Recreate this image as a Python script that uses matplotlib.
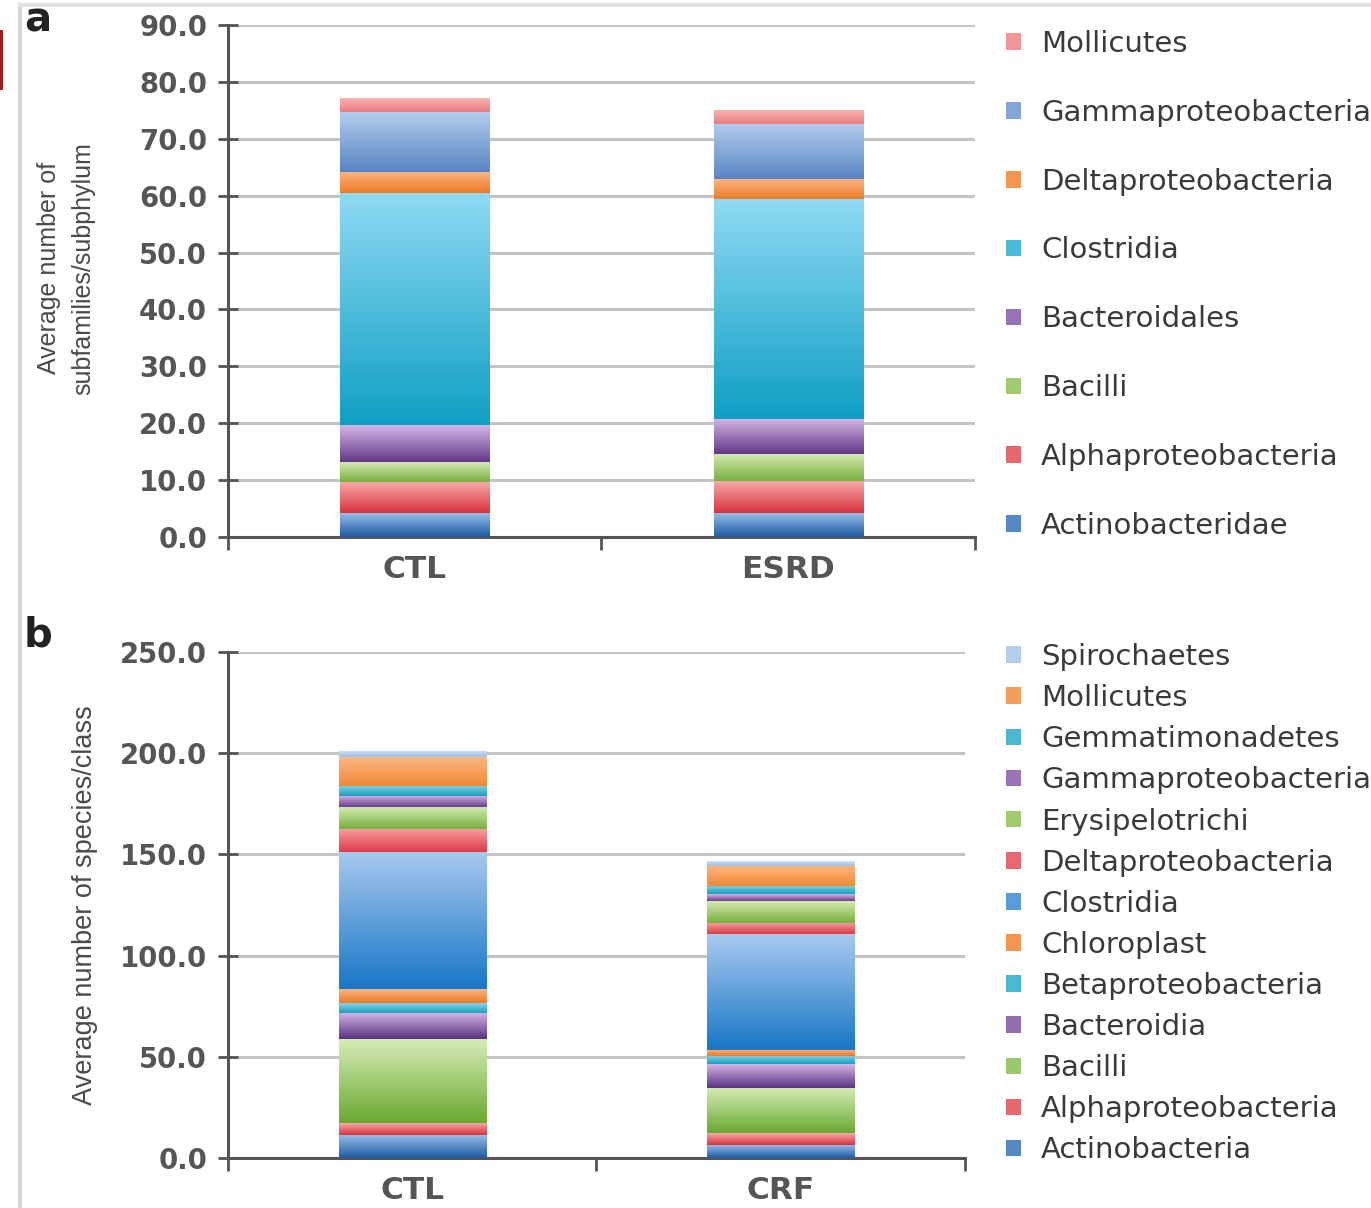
import numpy as np
import matplotlib
matplotlib.use("Agg")
import matplotlib.pyplot as plt
from matplotlib.colors import LinearSegmentedColormap
from matplotlib.patches import Rectangle
from matplotlib.lines import Line2D

# ---------------- data ----------------
groups_a = ["CTL", "ESRD"]
taxa_a = ["Actinobacteridae", "Alphaproteobacteria", "Bacilli", "Bacteroidales",
          "Clostridia", "Deltaproteobacteria", "Gammaproteobacteria", "Mollicutes"]
ctl_a = [4.3, 5.3, 3.5, 6.5, 40.9, 3.7, 10.5, 2.5]
esrd_a = [4.3, 5.6, 4.7, 6.2, 38.6, 3.5, 9.7, 2.5]
yticks_a = [0, 10, 20, 30, 40, 50, 60, 70, 80, 90]

groups_b = ["CTL", "CRF"]
taxa_b = ["Actinobacteria", "Alphaproteobacteria", "Bacilli", "Bacteroidia",
          "Betaproteobacteria", "Chloroplast", "Clostridia", "Deltaproteobacteria",
          "Erysipelotrichi", "Gammaproteobacteria", "Gemmatimonadetes",
          "Mollicutes", "Spirochaetes"]
ctl_b = [11.5, 5.8, 41.3, 13.2, 4.9, 6.6, 67.7, 11.5, 10.8, 5.7, 5.0, 14.0, 3.3]
crf_b = [6.6, 5.8, 22.3, 11.5, 4.1, 3.3, 57.0, 5.7, 10.8, 3.3, 4.1, 9.9, 2.1]
yticks_b = [0, 50, 100, 150, 200, 250]

# (light, dark) gradient colours
colors_a = [("#9cc0ec", "#1d5aa3"), ("#f8a8a8", "#d8323c"), ("#d3eab0", "#78b03e"),
            ("#d4b6e6", "#643889"), ("#8fdaf4", "#0f9fc4"), ("#fcb684", "#ee7a26"),
            ("#b3ccee", "#5886c4"), ("#f9b6b6", "#ec7c82")]
colors_b = [("#9cc0ec", "#1d5aa3"), ("#f8a8a8", "#d8323c"), ("#d6ecb6", "#6aa932"),
            ("#d4b6e6", "#5a3282"), ("#86d4e6", "#1a9fbe"), ("#fcb684", "#ee7a26"),
            ("#a9c9ee", "#1877c8"), ("#f8a0a4", "#dd3a45"), ("#d3eab0", "#78b03e"),
            ("#d4b6e6", "#6a3d8f"), ("#86d4e6", "#1a9fbe"), ("#fcb684", "#f08a35"),
            ("#cfe0f4", "#9cbfe6")]

FONT = "DejaVu Sans"
LFONT = "Liberation Sans"
TXT = "#4a4a4a"

fig = plt.figure(figsize=(13.71, 12.08), dpi=100)
W, H = 1371, 1208


def add_axes_px(x0, y0, x1, y1):
    return fig.add_axes([x0 / W, 1 - y1 / H, (x1 - x0) / W, (y1 - y0) / H])


def gradient(ax, patch, light, dark):
    x, y = patch.get_x(), patch.get_y()
    w, h = patch.get_width(), patch.get_height()
    cmap = LinearSegmentedColormap.from_list("g", [dark, light])
    grad = np.linspace(0, 1, 128).reshape(-1, 1)
    im = ax.imshow(grad, extent=[x, x + w, y, y + h], origin="lower", cmap=cmap,
                   aspect="auto", zorder=3, interpolation="bilinear")
    im.set_clip_path(patch)


def panel(ax, groups, taxa, vals, colors, yticks, ymax, ylabel, ylabel_size,
          ylabel_xy, legend_spacing, legend_anchor):
    xs = np.arange(len(groups))
    bottoms = np.zeros(len(groups))
    data = np.array(vals)
    handles = []
    for i, t in enumerate(taxa):
        light, dark = colors[i]
        mid = LinearSegmentedColormap.from_list("m", [dark, light])(0.45)
        bars = ax.bar(xs, data[:, i], bottom=bottoms, width=0.40, color=mid,
                      edgecolor="none", zorder=2, label=t)
        for p in bars.patches:
            gradient(ax, p, light, dark)
        bottoms += data[:, i]
        handles.append(Rectangle((0, 0), 1, 1, facecolor=mid, edgecolor="none"))
    ax.set_xlim(-0.5, len(groups) - 0.5)
    ax.set_ylim(0, ymax)
    ax.set_yticks(yticks)
    ax.set_yticklabels([f"{v:.1f}" for v in yticks], fontfamily=FONT, fontsize=19.8,
                       color="#555555", fontweight="bold")
    ax.set_xticks(xs)
    ax.set_xticklabels(groups, fontfamily=FONT, fontsize=22.5, color="#555555",
                       fontweight="bold")
    ax.tick_params(axis="x", length=0, pad=13)
    ax.set_xticks([-0.5, 0.5, 1.5], minor=True)
    ax.tick_params(axis="x", which="minor", length=9, width=2, color="#555555", direction="out")
    ax.tick_params(axis="y", length=14, width=2, color="#555555", direction="inout", pad=8)
    ax.yaxis.grid(True, color="#c4c4c4", linewidth=2.2, zorder=0)
    ax.set_axisbelow(True)
    for s in ["top", "right"]:
        ax.spines[s].set_visible(False)
    for s in ["left", "bottom"]:
        ax.spines[s].set_color("#555555")
        ax.spines[s].set_linewidth(2.2)
    ax.set_ylabel(ylabel, fontfamily=LFONT, fontsize=ylabel_size, color=TXT,
                  linespacing=1.55)
    ax.yaxis.set_label_coords(*ylabel_xy)
    leg = fig.legend(handles[::-1], taxa[::-1], loc="upper left",
                     bbox_to_anchor=legend_anchor, frameon=False,
                     prop={"family": FONT, "size": 21},
                     handlelength=0.5, handleheight=0.5, handletextpad=0.7,
                     labelspacing=legend_spacing, borderaxespad=0, borderpad=0)
    for t in leg.get_texts():
        t.set_color("#3a3a3a")


ax_a = add_axes_px(228, 25, 975, 537)
panel(ax_a, groups_a, taxa_a, np.column_stack([ctl_a, esrd_a]).T.tolist(), colors_a,
      yticks_a, 90, "Average number of\nsubfamilies/subphylum", 18,
      ((95 - 228) / 747, 0.525), 1.40, (1006 / W, 1 - 30 / H))

ax_b = add_axes_px(228, 652, 965, 1158)
panel(ax_b, groups_b, taxa_b, np.column_stack([ctl_b, crf_b]).T.tolist(), colors_b,
      yticks_b, 250, "Average number of species/class", 19.5,
      ((98 - 228) / 737, 0.5), 0.45, (1006 / W, 1 - 643 / H))

fig.text(24 / W, 1 - 21 / H, "a", fontfamily=FONT, fontsize=29, fontweight="bold",
         color="#222222", va="center", ha="left")
fig.text(24 / W, 1 - 635 / H, "b", fontfamily=FONT, fontsize=29, fontweight="bold",
         color="#222222", va="center", ha="left")

# thin frame lines and edge mark of the original figure
fig.add_artist(Line2D([20 / W, 20 / W], [0, 1 - 5 / H], transform=fig.transFigure,
                      color="#d8d8d8", linewidth=3))
fig.add_artist(Line2D([20 / W, 1], [1 - 5 / H, 1 - 5 / H], transform=fig.transFigure,
                      color="#e2e2e2", linewidth=3))
fig.add_artist(Rectangle((0, 1 - 90 / H), 3 / W, 60 / H, transform=fig.transFigure,
                         facecolor="#a01c1c", edgecolor="none"))

fig.savefig("out.png", dpi=100)
